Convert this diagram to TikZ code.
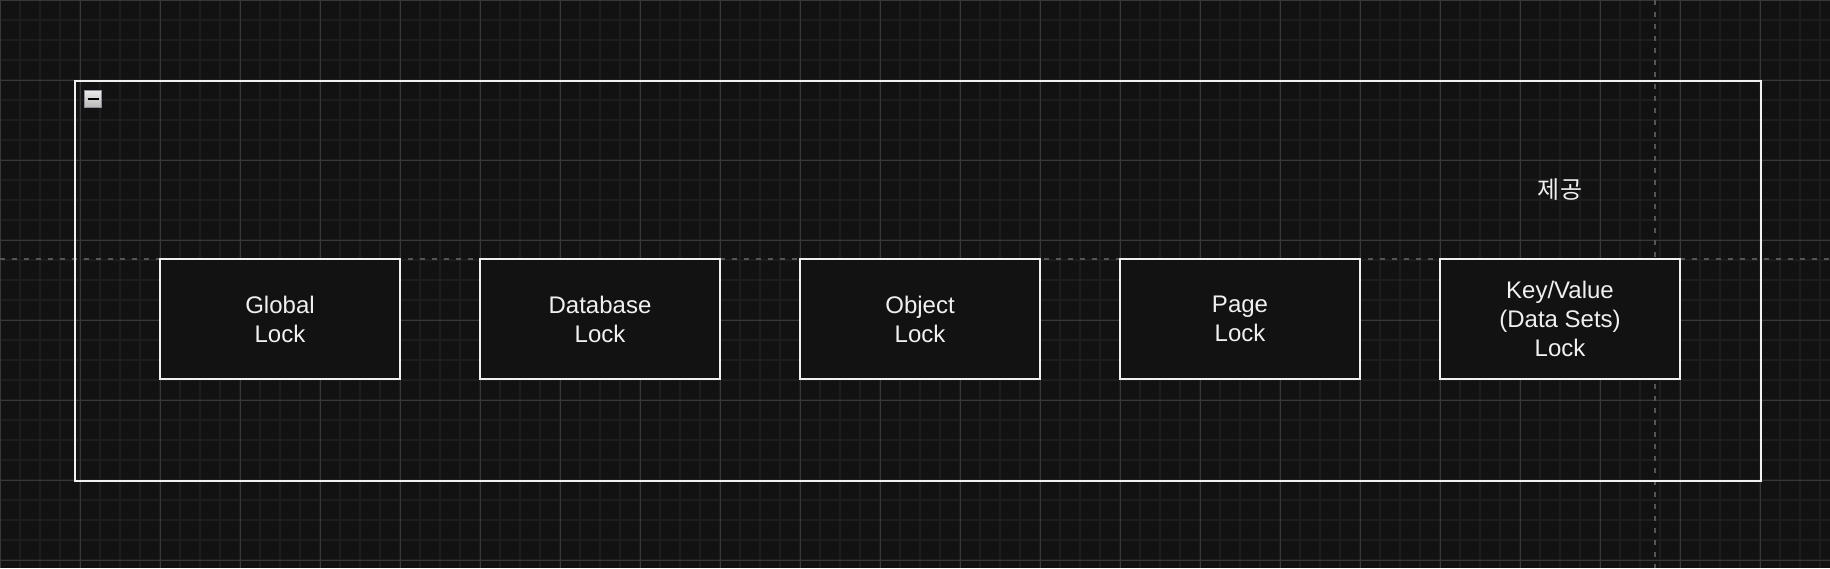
\documentclass[tikz,border=0pt]{standalone}
\usepackage{fontspec}
\setmainfont{Liberation Sans}
\newfontfamily\kofont{Noto Sans CJK KR}
\usepackage{tikz}
\usetikzlibrary{shapes,positioning,calc}
\definecolor{bgdark}{HTML}{121212}
\definecolor{gridminor}{HTML}{1D1D1D}
\definecolor{gridmajor}{HTML}{383838}
\definecolor{guidegray}{HTML}{555555}
\definecolor{fgwhite}{HTML}{F0F0F0}
\definecolor{foldedge}{HTML}{8A8F99}
\tikzstyle{lock} = [rectangle, minimum width=120pt, minimum height=60pt, text centered, align=center, draw=fgwhite, fill=bgdark, line width=1pt, text=fgwhite, font=\fontsize{12pt}{14.5pt}\selectfont]
\tikzstyle{minorline} = [gridminor, line width=1pt]
\tikzstyle{majorline} = [gridmajor, line width=0.5pt]
\tikzstyle{guideline} = [guidegray, line width=1pt, dash pattern=on 2.5pt off 3.5pt]
\tikzstyle{fold} = [rectangle, minimum width=8.5pt, minimum height=8.5pt, inner sep=0pt, draw=foldedge, line width=0.5pt, top color=white!92!black, bottom color=white!72!black]
\begin{document}
\begin{tikzpicture}[x=0.5pt,y=-0.5pt]
	\fill[bgdark] (0,0) rectangle (1830,568);
	\useasboundingbox (0,0) rectangle (1830,568);
	% grid
	\foreach \x in {0,20,...,1820} \draw[minorline] (\x,0) -- (\x,568);
	\foreach \y in {0,20,...,560} \draw[minorline] (0,\y) -- (1830,\y);
	\foreach \x in {0,80,...,1800} \draw[majorline] (\x,0) -- (\x,568);
	\foreach \y in {0,80,...,560} \draw[majorline] (0,\y) -- (1830,\y);
	% guides
	\draw[guideline] (0,259) -- (1830,259);
	\draw[guideline] (1655,0) -- (1655,568);
	% group
	\draw[fgwhite, line width=1pt] (75,81) rectangle (1761,481);
	\node (fold) at (93,99) [fold] {};
	\draw[black, line width=1pt] (87.5,99) -- (98.5,99);
	\node (prov) at (1560,190) [text=fgwhite, font=\kofont\fontsize{12pt}{14.5pt}\selectfont] {제공};
	% locks
	\node (g) at (280,319) [lock] {Global\\Lock};
	\node (d) at (600,319) [lock] {Database\\Lock};
	\node (o) at (920,319) [lock] {Object\\Lock};
	\node (p) at (1240,319) [lock] {Page\\Lock};
	\node (k) at (1560,319) [lock] {Key/Value\\(Data Sets)\\Lock};
\end{tikzpicture}
\end{document}
